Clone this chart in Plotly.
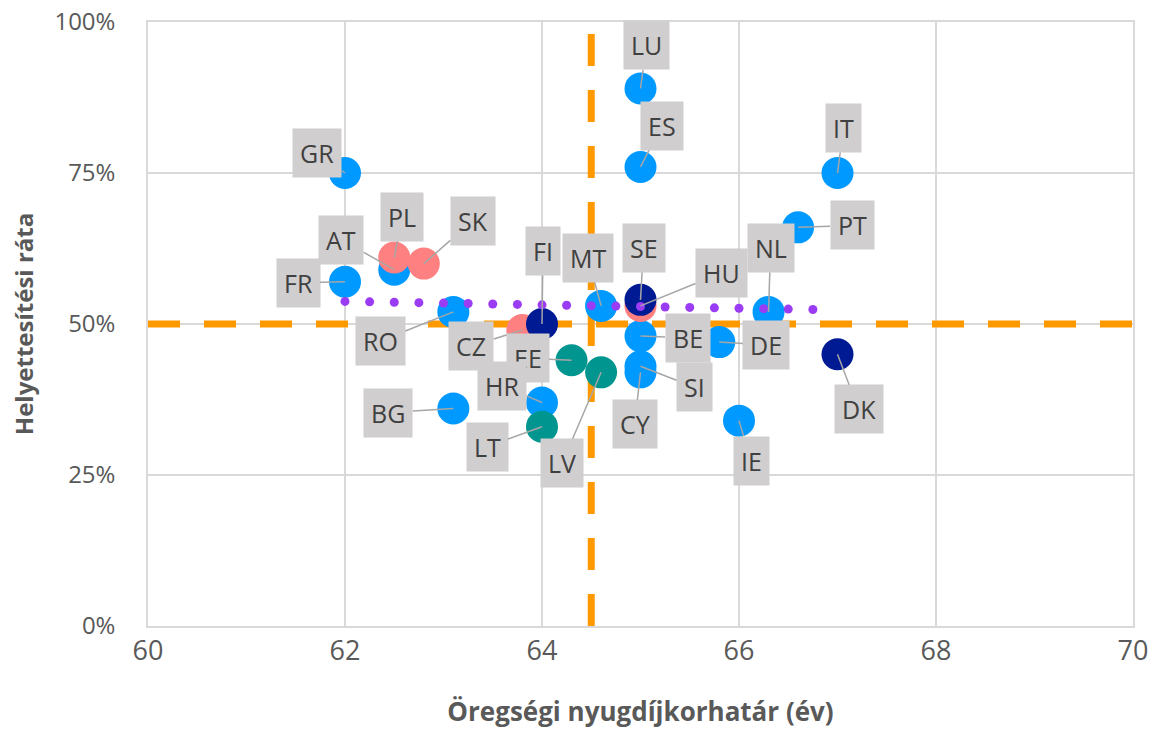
import numpy as np
import plotly.graph_objects as go

# Statutory retirement age (years) and replacement rate, by country group
blue_codes = ["GR", "FR", "AT", "RO", "BG", "HR", "MT", "LU", "ES", "BE", "SI", "CY", "DE", "IE", "NL", "PT", "IT"]
blue_age = [62, 62, 62.5, 63.1, 63.1, 64, 64.6, 65, 65, 65, 65, 65, 65.8, 66, 66.3, 66.6, 67]
blue_rate = [0.75, 0.57, 0.59, 0.52, 0.36, 0.37, 0.53, 0.89, 0.76, 0.48, 0.43, 0.42, 0.47, 0.34, 0.52, 0.66, 0.75]

salmon_codes = ["PL", "SK", "CZ", "HU"]
salmon_age = [62.5, 62.8, 63.8, 65]
salmon_rate = [0.61, 0.60, 0.49, 0.53]

teal_codes = ["EE", "LT", "LV"]
teal_age = [64.3, 64, 64.6]
teal_rate = [0.44, 0.33, 0.42]

navy_codes = ["FI", "SE", "DK"]
navy_age = [64, 65, 67]
navy_rate = [0.50, 0.54, 0.45]

# Reference levels (dashed guides)
ref_age = 64.5
ref_rate = 0.50

x_ticks = [60, 62, 64, 66, 68, 70]
y_ticks = [0, 0.25, 0.5, 0.75, 1.0]

# Label box offsets from each marker, in pixels (dx, dy)
label_offsets = {
    "GR": (-28, -20), "FR": (-47, 1), "AT": (-53, -30), "PL": (8, -41),
    "SK": (49, -43), "RO": (-73, 29), "BG": (-65, 4), "CZ": (-51, 16),
    "FI": (1, -73), "MT": (-13, -48), "EE": (-44, -2), "HR": (-40, -17),
    "LT": (-55, 20), "LV": (-39, 91), "LU": (6, -43), "ES": (21, -41),
    "SE": (3, -52), "HU": (81, -33), "NL": (2, -64), "BE": (47, 2),
    "SI": (54, 21), "CY": (-6, 52), "DE": (47, 3), "IE": (12, 40),
    "PT": (54, -2), "IT": (6, -45), "DK": (21, 55),
}
label_order = ["GR", "FR", "AT", "PL", "SK", "RO", "BG", "CZ", "FI", "MT", "EE", "HR",
               "LT", "LV", "LU", "ES", "SE", "HU", "NL", "BE", "SI", "CY", "DE", "IE",
               "PT", "IT", "DK"]

ORANGE = "#FF9900"
GRID = "#D9D9D9"
AXIS_TEXT = "#595959"
LABEL_FONT = "Open Sans"
NARROW_FONT = "Liberation Sans Narrow, Open Sans"

series = [
    (blue_codes, blue_age, blue_rate, "#0099FF"),
    (salmon_codes, salmon_age, salmon_rate, "#FF8080"),
    (teal_codes, teal_age, teal_rate, "#00958F"),
    (navy_codes, navy_age, navy_rate, "#001A94"),
]

fig = go.Figure()

# Dashed guide lines
fig.add_trace(go.Scatter(x=[x_ticks[0], x_ticks[-1]], y=[ref_rate, ref_rate], mode="lines",
                         line=dict(color=ORANGE, width=7, dash="32px,24px"),
                         hoverinfo="skip", showlegend=False))
fig.add_trace(go.Scatter(x=[ref_age, ref_age], y=[y_ticks[0], y_ticks[-1]], mode="lines",
                         line=dict(color=ORANGE, width=7, dash="32px,24px"),
                         hoverinfo="skip", showlegend=False))

# Country markers
for codes, ages, rates, color in series:
    fig.add_trace(go.Scatter(x=ages, y=rates, mode="markers", text=codes,
                             marker=dict(size=32, color=color, line=dict(width=0)),
                             showlegend=False))

# Linear trend over all countries, drawn as round dots
all_age = np.array(blue_age + salmon_age + teal_age + navy_age, dtype=float)
all_rate = np.array(blue_rate + salmon_rate + teal_rate + navy_rate, dtype=float)
slope, intercept = np.polyfit(all_age, all_rate, 1)
trend_x = np.arange(all_age.min(), all_age.max(), 0.25)
fig.add_trace(go.Scatter(x=trend_x, y=slope * trend_x + intercept, mode="markers",
                         marker=dict(size=9, color="#9B3CF5", line=dict(width=0)),
                         hoverinfo="skip", showlegend=False))

# Country labels with leader lines
lookup = {}
for codes, ages, rates, _ in series:
    for c, a, r in zip(codes, ages, rates):
        lookup[c] = (a, r)

for code in label_order:
    a, r = lookup[code]
    dx, dy = label_offsets[code]
    fig.add_annotation(x=a, y=r, text=code, showarrow=True, arrowhead=0,
                       arrowwidth=1.5, arrowcolor="#A6A6A6", ax=dx, ay=dy,
                       standoff=0, startstandoff=0,
                       bgcolor="#D0CECE", borderpad=7,
                       font=dict(family=LABEL_FONT, size=25, color="#404040"))

fig.update_layout(
    width=1156, height=731,
    margin=dict(l=148, r=23, t=22, b=105),
    paper_bgcolor="white", plot_bgcolor="white",
    showlegend=False,
    xaxis=dict(range=[60, 70], tickvals=x_ticks, showgrid=True, gridcolor=GRID, gridwidth=1.5,
               showline=True, linecolor=GRID, linewidth=1.5, mirror=True, zeroline=False,
               automargin=False, ticks="",
               tickfont=dict(family=NARROW_FONT, size=27, color=AXIS_TEXT),
               title=dict(text="<b>Öregségi nyugdíjkorhatár (év)</b>", standoff=36,
                          font=dict(family=LABEL_FONT, size=26, color=AXIS_TEXT))),
    yaxis=dict(range=[0, 1], tickvals=y_ticks, tickformat=".0%", showgrid=True, gridcolor=GRID,
               gridwidth=1.5, showline=True, linecolor=GRID, linewidth=1.5, mirror=True,
               zeroline=False, automargin=False, ticks="", ticklabelstandoff=26,
               tickfont=dict(family=LABEL_FONT, size=24, color=AXIS_TEXT),
               title=dict(text="<b>Helyettesítési ráta</b>", standoff=14,
                          font=dict(family=LABEL_FONT, size=24, color=AXIS_TEXT))),
)

fig.write_html("out.html")
